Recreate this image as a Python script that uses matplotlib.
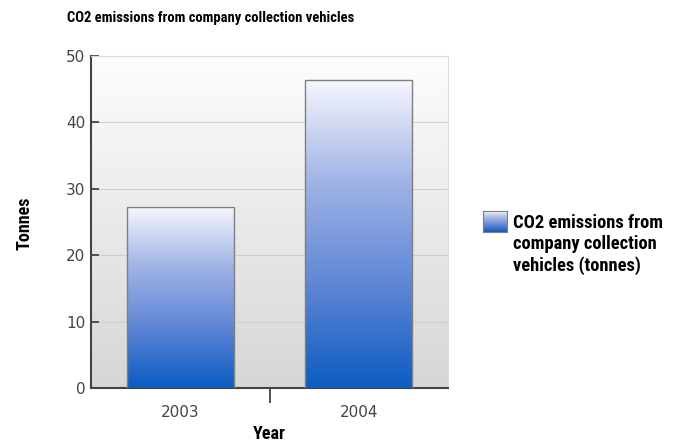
import numpy as np
import matplotlib.pyplot as plt
from matplotlib.colors import LinearSegmentedColormap
from matplotlib import font_manager

years = ['2003', '2004']
emissions = [27.3, 46.4]
series_label = 'CO2 emissions from\ncompany collection\nvehicles (tonnes)'

# look for a narrow bold face, fall back to DejaVu
cond_file = None
for key in ['LiberationSansNarrow-Bold', 'RobotoCondensed-Bold', 'DejaVuSansCondensed-Bold',
            'OpenSans_Condensed-Bold', 'OpenSansCondensed-Bold', 'NotoSans-CondensedBold']:
    hits = [f.fname for f in font_manager.fontManager.ttflist if key.lower() in f.fname.lower().replace(' ', '')]
    if hits:
        cond_file = hits[0]
        break
if cond_file:
    bold = lambda size: font_manager.FontProperties(fname=cond_file, size=size)
else:
    bold = lambda size: font_manager.FontProperties(family='DejaVu Sans', weight='bold', size=size - 1.5)

bar_cmap = LinearSegmentedColormap.from_list('bar', ['#0b5cc2', '#5f86d6', '#9fb3e6', '#f7f7fd'])
bg_cmap = LinearSegmentedColormap.from_list('bg', ['#d6d6d6', '#fdfdfd'])

fig = plt.figure(figsize=(6.79, 4.46), dpi=100)
ax = fig.add_axes([91 / 679, 1 - 388 / 446, (448 - 91) / 679, (388 - 56) / 446])

x = np.arange(len(years))

grad = np.linspace(0, 1, 256).reshape(-1, 1)
ax.imshow(grad, cmap=bg_cmap, aspect='auto', extent=[-0.5, 1.5, 0, 50], origin='lower', zorder=0)
for v in [10, 20, 30, 40, 50]:
    ax.axhline(v, color='#cfcfcf', lw=0.8, zorder=1)

bars = ax.bar(x, emissions, width=0.6, color='none', edgecolor='#7f7f7f', lw=1.0, zorder=3)
for b in bars:
    x0, y0 = b.get_x(), b.get_y()
    ax.imshow(grad, cmap=bar_cmap, aspect='auto', origin='lower',
              extent=[x0, x0 + b.get_width(), y0, y0 + b.get_height()], zorder=2)
ax.set_xlim(-0.5, 1.5)
ax.set_ylim(0, 50)

for s in ['top', 'right']:
    ax.spines[s].set_color('#dcdcdc')
    ax.spines[s].set_linewidth(0.8)
for s in ['left', 'bottom']:
    ax.spines[s].set_color('#444444')
    ax.spines[s].set_linewidth(1.5)

ax.set_yticks([0, 10, 20, 30, 40, 50])
ax.tick_params(axis='y', direction='in', length=6, width=1.3, color='#444444',
               labelsize=11, labelcolor='#444444', pad=4)
ax.set_xticks([0.5])
ax.set_xticklabels([''])
ax.tick_params(axis='x', direction='out', length=11, width=1.3, color='#444444', pad=2)
for xi, yr in zip(x, years):
    ax.text(xi, -3.7, yr, ha='center', va='center', fontsize=11, color='#444444')

ax.text(0.5, -7.0, 'Year', ha='center', va='center', fontproperties=bold(13))
fig.text(24 / 679, 1 - 223 / 446, 'Tonnes', rotation=90, ha='center', va='center',
         fontproperties=bold(13))
fig.text(211 / 679, 1 - 18 / 446, 'CO2 emissions from company collection vehicles',
         ha='center', va='center', fontproperties=bold(10.5))

lax = fig.add_axes([483 / 679, 1 - 232 / 446, 24 / 679, 21 / 446])
lax.imshow(grad, cmap=bar_cmap, aspect='auto', origin='lower')
lax.set_xticks([])
lax.set_yticks([])
for s in lax.spines.values():
    s.set_color('#7f7f7f')
fig.text(513 / 679, 1 - 214 / 446, series_label, ha='left', va='top',
         fontproperties=bold(13.3), linespacing=1.2)

fig.savefig('out.png', dpi=100)
